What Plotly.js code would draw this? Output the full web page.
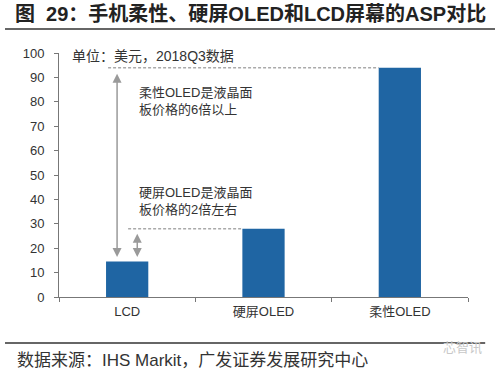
<!DOCTYPE html>
<html>
<head>
<meta charset="utf-8">
<script src="https://cdn.plot.ly/plotly-3.0.1.min.js"></script>
<style>html,body{margin:0;padding:0;background:#fff;}#chart{width:500px;height:370px;}</style>
</head>
<body>
<div id="chart"></div>
<script>
var categories = ['LCD', '硬屏OLED', '柔性OLED'];
var aspValues = [14.5, 28, 94];
var yTickVals = [0, 10, 20, 30, 40, 50, 60, 70, 80, 90, 100];
var titleText = '图&nbsp;&nbsp;29：手机柔性、硬屏OLED和LCD屏幕的ASP对比';
var unitText = '单位：美元，2018Q3数据';
var noteFlexible = '柔性OLED是液晶面<br>板价格的6倍以上';
var noteRigid = '硬屏OLED是液晶面<br>板价格的2倍左右';
var sourceText = '数据来源：IHS Markit，广发证券发展研究中心';
var watermarkText = '芯智讯';

var FONT = 'Liberation Sans, Arial, Noto Sans CJK SC, sans-serif';
var gray = '#9a9a9a';

var trace = {
  type: 'bar',
  x: categories,
  y: aspValues,
  marker: {color: '#1f65a3'},
  hoverinfo: 'skip'
};

var layout = {
  width: 500, height: 370,
  margin: {l: 59, r: 32, t: 53, b: 73, pad: 0},
  paper_bgcolor: '#fff', plot_bgcolor: '#fff',
  font: {family: FONT, color: '#333', size: 13},
  showlegend: false,
  bargap: 0.69,
  title: {
    text: '<b>' + titleText + '</b>',
    font: {family: FONT, size: 20, color: '#222'},
    x: 0.03, xanchor: 'left', xref: 'container',
    y: 1 - 14 / 370, yanchor: 'middle', yref: 'container'
  },
  xaxis: {
    type: 'category',
    showline: true, linecolor: '#777', linewidth: 1,
    ticks: 'outside', tickson: 'boundaries', ticklen: 4, tickcolor: '#777',
    tickfont: {size: 13, color: '#333'},
    ticklabelstandoff: 2,
    showgrid: false, zeroline: false
  },
  yaxis: {
    range: [0, 100],
    tickvals: yTickVals,
    showline: true, linecolor: '#777', linewidth: 1,
    ticks: 'outside', ticklen: 4, tickcolor: '#777',
    tickfont: {size: 13, color: '#333'},
    ticklabelstandoff: 7,
    showgrid: false, zeroline: false
  },
  shapes: [
    {type: 'line', xref: 'x', yref: 'y', x0: -0.14, x1: 1.845, y0: aspValues[2], y1: aspValues[2],
     line: {color: '#aaa', width: 1.5, dash: '3px,2px'}},
    {type: 'line', xref: 'x', yref: 'y', x0: 0.007, x1: 0.845, y0: aspValues[1], y1: aspValues[1],
     line: {color: '#aaa', width: 1.5, dash: '3px,2px'}},
    {type: 'line', xref: 'paper', yref: 'paper', x0: -0.132, x1: 1.066, y0: 1.0984, y1: 1.0984,
     line: {color: '#333', width: 1.5}},
    {type: 'line', xref: 'paper', yref: 'paper', x0: -0.132, x1: 1.042, y0: -0.1885, y1: -0.1885,
     line: {color: '#333', width: 1.5}}
  ],
  annotations: [
    {xref: 'x', yref: 'y', axref: 'x', ayref: 'y',
     x: -0.074, y: aspValues[2], ax: -0.074, ay: aspValues[0],
     showarrow: true, arrowside: 'end+start', arrowhead: 2, startarrowhead: 2,
     arrowsize: 1.2, startarrowsize: 1.2, arrowwidth: 1.5, arrowcolor: gray,
     standoff: 6, startstandoff: 3, text: ''},
    {xref: 'x', yref: 'y', axref: 'x', ayref: 'y',
     x: 0.074, y: aspValues[1], ax: 0.074, ay: aspValues[0],
     showarrow: true, arrowside: 'end+start', arrowhead: 2, startarrowhead: 2,
     arrowsize: 1.2, startarrowsize: 1.2, arrowwidth: 1.5, arrowcolor: gray,
     standoff: 5, startstandoff: 3, text: ''},
    {xref: 'paper', yref: 'y', x: 0.027, y: 98.8, xanchor: 'left', yanchor: 'middle',
     showarrow: false, text: unitText, font: {size: 14, color: '#333'}},
    {xref: 'paper', yref: 'y', x: 0.19, y: 80.5, xanchor: 'left', yanchor: 'middle', align: 'left',
     showarrow: false, text: noteFlexible, font: {size: 13, color: '#333'}},
    {xref: 'paper', yref: 'y', x: 0.19, y: 39.3, xanchor: 'left', yanchor: 'middle', align: 'left',
     showarrow: false, text: noteRigid, font: {size: 13, color: '#333'}},
    {xref: 'paper', yref: 'paper', x: -0.108, y: -0.262, xanchor: 'left', yanchor: 'middle',
     showarrow: false, text: sourceText, font: {size: 17, color: '#333'}},
    {xref: 'paper', yref: 'paper', x: 1.04, y: -0.205, xanchor: 'right', yanchor: 'middle',
     showarrow: false, text: watermarkText, font: {size: 13, color: '#c8c8c8'}}
  ]
};

Plotly.newPlot('chart', [trace], layout, {displayModeBar: false, staticPlot: true});
</script>
</body>
</html>
